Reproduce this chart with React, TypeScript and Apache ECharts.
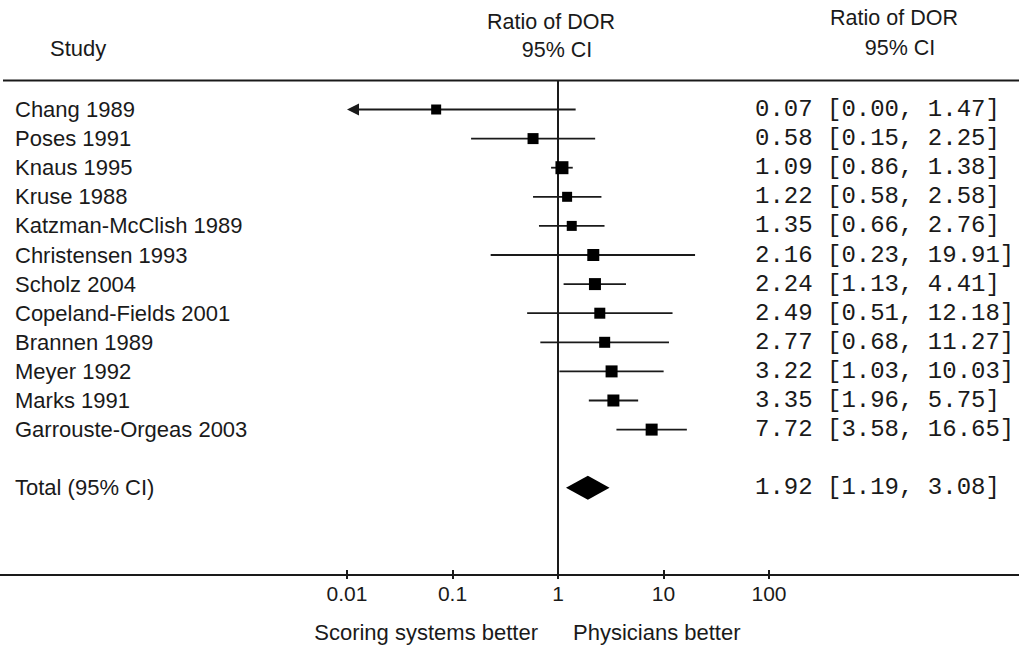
import React, { useEffect, useRef } from "react";
import * as echarts from "echarts";

// ---------- data ----------
const studyNames = [
  "Chang 1989",
  "Poses 1991",
  "Knaus 1995",
  "Kruse 1988",
  "Katzman-McClish 1989",
  "Christensen 1993",
  "Scholz 2004",
  "Copeland-Fields 2001",
  "Brannen 1989",
  "Meyer 1992",
  "Marks 1991",
  "Garrouste-Orgeas 2003",
];
const ratioEstimates = [0.07, 0.58, 1.09, 1.22, 1.35, 2.16, 2.24, 2.49, 2.77, 3.22, 3.35, 7.72];
const ciLower = [0.0, 0.15, 0.86, 0.58, 0.66, 0.23, 1.13, 0.51, 0.68, 1.03, 1.96, 3.58];
const ciUpper = [1.47, 2.25, 1.38, 2.58, 2.76, 19.91, 4.41, 12.18, 11.27, 10.03, 5.75, 16.65];
const studyWeights = [10, 11, 13, 10, 10, 12, 12, 11, 11, 12, 12, 12];

const totalName = "Total (95% CI)";
const totalEstimate = 1.92;
const totalLower = 1.19;
const totalUpper = 3.08;

const nullEffect = 1;
const xTickLabels = ["0.01", "0.1", "1", "10", "100"];
const headerStudy = "Study";
const headerEffect = ["Ratio of DOR", "95% CI"];
const footerLeft = "Scoring systems better";
const footerRight = "Physicians better";

// ---------- layout / style ----------
const SANS = '"Liberation Sans", Arial, sans-serif';
const MONO = '"Liberation Mono", "Courier New", monospace';
const INK = "#1a1a1a";

const X_MIN = 0.01;
const X_MAX = 100;
const ROW_MIN = -1;
const ROW_MAX = 16;
const ROW_STEP = 29.1;
const GRID_LEFT = 347;
const GRID_WIDTH = 422;
const GRID_TOP = 80.4;
const GRID_HEIGHT = (ROW_MAX - ROW_MIN) * ROW_STEP;
const AXIS_Y = GRID_TOP + GRID_HEIGHT;
const TOTAL_ROW = 13;
const NAME_LEFT = 15;
const RESULT_LEFT = 755;

const fmt = (v: number) => v.toFixed(2);

function textEl(x: number, y: number, text: string, family: string, size: number, align = "left") {
  return {
    type: "text",
    x,
    y,
    silent: true,
    style: {
      text,
      fill: INK,
      fontFamily: family,
      fontSize: size,
      align,
      verticalAlign: "middle",
      textAlign: align,
      textVerticalAlign: "middle",
    },
  };
}

function gText(x: number, y: number, text: string, size: number, align = "left") {
  return {
    type: "text",
    x,
    y,
    silent: true,
    style: {
      text,
      fill: INK,
      font: `${size}px ${SANS}`,
      textAlign: align,
      textVerticalAlign: "middle",
      align,
      verticalAlign: "middle",
    },
  };
}

export default function App() {
  const ref = useRef<HTMLDivElement>(null);

  useEffect(() => {
    if (!ref.current) return;
    const chart = echarts.init(ref.current, null, { renderer: "svg" });

    const studyData = studyNames.map((name, i) => ({
      name,
      value: [ratioEstimates[i], i, ciLower[i], ciUpper[i], studyWeights[i]],
    }));

    const renderStudy = (params: any, api: any) => {
      const est = api.value(0);
      const row = api.value(1);
      const lo = api.value(2);
      const hi = api.value(3);
      const size = api.value(4);
      const clipped = lo < X_MIN;
      const pl = api.coord([clipped ? X_MIN : lo, row]);
      const ph = api.coord([hi, row]);
      const pe = api.coord([est, row]);
      const y = pe[1];
      const arrowLen = 12;
      const arrowHalf = 6;
      const children: any[] = [];
      children.push({
        type: "line",
        shape: { x1: clipped ? pl[0] + arrowLen - 1 : pl[0], y1: y, x2: ph[0], y2: y },
        style: { stroke: INK, lineWidth: 1.8 },
      });
      if (clipped) {
        children.push({
          type: "polygon",
          shape: {
            points: [
              [pl[0], y],
              [pl[0] + arrowLen, y - arrowHalf],
              [pl[0] + arrowLen, y + arrowHalf],
            ],
          },
          style: { fill: INK },
        });
      }
      children.push({
        type: "rect",
        shape: { x: pe[0] - size / 2, y: y - size / 2, width: size, height: size },
        style: { fill: "#000" },
      });
      children.push(textEl(NAME_LEFT, y, studyNames[params.dataIndex], SANS, 22));
      children.push(textEl(RESULT_LEFT, y, `${fmt(est)} [${fmt(lo)}, ${fmt(hi)}]`, MONO, 24));
      return { type: "group", children };
    };

    const renderTotal = (_params: any, api: any) => {
      const est = api.value(0);
      const row = api.value(1);
      const lo = api.value(2);
      const hi = api.value(3);
      const pl = api.coord([lo, row]);
      const ph = api.coord([hi, row]);
      const pe = api.coord([est, row]);
      const y = pe[1];
      const half = 12;
      return {
        type: "group",
        children: [
          {
            type: "polygon",
            shape: {
              points: [
                [pl[0], y],
                [pe[0], y - half],
                [ph[0], y],
                [pe[0], y + half],
              ],
            },
            style: { fill: "#000" },
          },
          textEl(NAME_LEFT, y, totalName, SANS, 22),
          textEl(RESULT_LEFT, y, `${fmt(est)} [${fmt(lo)}, ${fmt(hi)}]`, MONO, 24),
        ],
      };
    };

    const tickLabel = (v: number) => {
      const idx = Math.round(Math.log10(v)) + 2;
      return xTickLabels[idx] ?? "";
    };

    const baseX = {
      type: "log",
      logBase: 10,
      min: X_MIN,
      max: X_MAX,
      gridIndex: 0,
      position: "bottom",
      splitLine: { show: false },
      axisLine: { show: true, onZero: false, lineStyle: { color: INK, width: 2 } },
    };

    chart.setOption({
      animation: false,
      backgroundColor: "#ffffff",
      grid: { left: GRID_LEFT, top: GRID_TOP, width: GRID_WIDTH, height: GRID_HEIGHT },
      xAxis: [
        {
          ...baseX,
          axisTick: { show: true, length: 4, inside: false, lineStyle: { color: INK, width: 2 } },
          axisLabel: {
            show: true,
            margin: 8,
            color: INK,
            fontSize: 21,
            fontFamily: SANS,
            formatter: (v: number) => tickLabel(v),
          },
        },
        {
          ...baseX,
          axisTick: { show: true, length: 5, inside: true, lineStyle: { color: INK, width: 2 } },
          axisLabel: { show: false },
        },
      ],
      yAxis: {
        type: "value",
        inverse: true,
        min: ROW_MIN,
        max: ROW_MAX,
        show: false,
        axisLine: { onZero: false },
        splitLine: { show: false },
      },
      series: [
        {
          type: "line",
          silent: true,
          symbol: "none",
          xAxisIndex: 0,
          data: [
            [nullEffect, ROW_MIN],
            [nullEffect, ROW_MAX],
          ],
          lineStyle: { color: INK, width: 2 },
          z: 1,
        },
        {
          type: "custom",
          xAxisIndex: 0,
          clip: false,
          silent: true,
          encode: { x: 0, y: 1 },
          data: studyData,
          renderItem: renderStudy,
          z: 3,
        },
        {
          type: "custom",
          xAxisIndex: 0,
          clip: false,
          silent: true,
          encode: { x: 0, y: 1 },
          data: [{ name: totalName, value: [totalEstimate, TOTAL_ROW, totalLower, totalUpper] }],
          renderItem: renderTotal,
          z: 3,
        },
      ],
      graphic: [
        {
          type: "line",
          silent: true,
          shape: { x1: 3, y1: GRID_TOP, x2: 1019, y2: GRID_TOP },
          style: { stroke: INK, lineWidth: 2 },
        },
        {
          type: "line",
          silent: true,
          shape: { x1: 0, y1: AXIS_Y, x2: 1019, y2: AXIS_Y },
          style: { stroke: INK, lineWidth: 2 },
        },
        gText(50, 48, headerStudy, 22),
        gText(551, 22, headerEffect[0], 21.5, "center"),
        gText(557, 50, headerEffect[1], 21.5, "center"),
        gText(894, 18, headerEffect[0], 21.5, "center"),
        gText(900, 48, headerEffect[1], 21.5, "center"),
        gText(538, 632, footerLeft, 22, "right"),
        gText(573, 632, footerRight, 22, "left"),
      ],
    });

    return () => chart.dispose();
  }, []);

  return (
    <div
      ref={ref}
      style={{ position: "absolute", left: 0, top: 0, width: 1019, height: 646, background: "#fff" }}
    />
  );
}
